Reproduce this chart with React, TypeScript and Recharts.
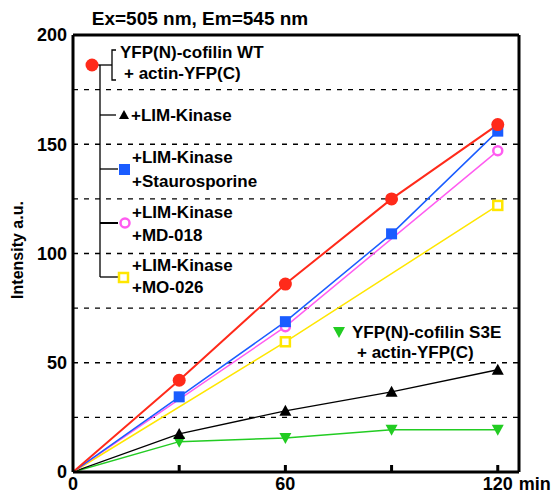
import React from 'react';
import { LineChart, Line, XAxis, YAxis, ReferenceLine } from 'recharts';

// time points (min) and intensities (a.u.)
const minutes = [0, 30, 60, 90, 120];
const wildType = [0, 42, 86, 125, 159];
const limKinase = [0, 17.4, 28, 36.7, 46.8];
const staurosporine = [0, 34.4, 68.8, 109, 156];
const md018 = [0, null, 66.5, null, 147];
const mo026 = [0, null, 59.6, null, 122];
const s3e = [0, 13.9, 15.6, 19.3, 19.3];

const xTicks = [0, 30, 60, 90, 120];
const xLabels = ['0', '', '60', '', '120'];
const yTicks = [0, 50, 100, 150, 200];
const gridLevels = [25, 50, 75, 100, 125, 150, 175];

const data = minutes.map((t, i) => ({
  t,
  wt: wildType[i],
  lk: limKinase[i],
  st: staurosporine[i],
  md: md018[i],
  mo: mo026[i],
  s3e: s3e[i],
}));

const FONT = '"Liberation Sans", Arial, Helvetica, sans-serif';
const RED = '#ff2a1a';
const BLUE = '#1a5cff';
const PINK = '#ff5cf0';
const YELLOW = '#ffe600';
const GREEN = '#22cc22';

// dot renderers: no marker at the origin
const skip = (p: any) => !p || p.cx == null || p.cy == null || p.value == null || p.payload?.t === 0;

const circleDot = (fill: string, r: number) => (p: any) =>
  skip(p) ? <g key={p.index} /> : <circle key={p.index} cx={p.cx} cy={p.cy} r={r} fill={fill} />;

const ringDot = (stroke: string) => (p: any) =>
  skip(p) ? <g key={p.index} /> : <circle key={p.index} cx={p.cx} cy={p.cy} r={4.5} fill="#fff" stroke={stroke} strokeWidth={2.5} />;

const squareDot = (fill: string) => (p: any) =>
  skip(p) ? <g key={p.index} /> : <rect key={p.index} x={p.cx - 5.5} y={p.cy - 5.5} width={11} height={11} fill={fill} />;

const hollowSquareDot = (stroke: string) => (p: any) =>
  skip(p) ? <g key={p.index} /> : <rect key={p.index} x={p.cx - 4.5} y={p.cy - 4.5} width={9} height={9} fill="#fff" stroke={stroke} strokeWidth={2.5} />;

const triUp = (fill: string) => (p: any) =>
  skip(p) ? <g key={p.index} /> : <path key={p.index} d={`M${p.cx},${p.cy - 6}L${p.cx + 6},${p.cy + 5}L${p.cx - 6},${p.cy + 5}Z`} fill={fill} />;

const triDown = (fill: string) => (p: any) =>
  skip(p) ? <g key={p.index} /> : <path key={p.index} d={`M${p.cx - 6},${p.cy - 5}L${p.cx + 6},${p.cy - 5}L${p.cx},${p.cy + 6}Z`} fill={fill} />;

const XTick = (props: any) => {
  const { x, y, payload, index } = props;
  const label = xLabels[index] ?? '';
  return (
    <g>
      {payload.value !== 0 && <line x1={x} y1={y} x2={x} y2={y - 7} stroke="#000" strokeWidth={3} />}
      {label && (
        <text x={x} y={y + 18} textAnchor="middle" fontFamily={FONT} fontWeight="bold" fontSize={18} fill="#000">
          {label}
        </text>
      )}
      {label === '120' && (
        <text x={x + 21} y={y + 18} textAnchor="start" fontFamily={FONT} fontWeight="bold" fontSize={18} fill="#000">
          min
        </text>
      )}
    </g>
  );
};

const txt = { fontFamily: FONT, fontWeight: 'bold' as const, fontSize: 17, fill: '#000' };

export default function App() {
  return (
    <div style={{ position: 'absolute', left: 0, top: 0, width: 553, height: 493, background: '#fff' }}>
      <LineChart
        width={553}
        height={493}
        data={data}
        margin={{ top: 35, right: 34, bottom: 0, left: 0 }}
      >
        <XAxis
          dataKey="t"
          type="number"
          domain={[0, 126]}
          ticks={xTicks}
          interval={0}
          height={21}
          tickSize={0}
          tickMargin={0}
          tickLine={false}
          axisLine={{ stroke: '#000', strokeWidth: 3 }}
          tick={<XTick />}
          allowDataOverflow
        />
        <YAxis
          type="number"
          domain={[0, 200]}
          ticks={yTicks}
          interval={0}
          width={73}
          tickSize={0}
          tickMargin={6}
          tickLine={false}
          axisLine={{ stroke: '#000', strokeWidth: 3 }}
          tick={{ fontFamily: FONT, fontWeight: 'bold', fontSize: 18, fill: '#000' }}
        />
        {gridLevels.map((v) => (
          <ReferenceLine key={v} y={v} stroke="#000" strokeWidth={1.3} strokeDasharray="5 6" />
        ))}
        <ReferenceLine y={200} stroke="#000" strokeWidth={3} />
        <ReferenceLine x={126} stroke="#000" strokeWidth={3} />

        <Line dataKey="s3e" stroke={GREEN} strokeWidth={1.5} dot={triDown(GREEN)} isAnimationActive={false} />
        <Line dataKey="lk" stroke="#000" strokeWidth={1.3} dot={triUp('#000')} isAnimationActive={false} />
        <Line dataKey="mo" stroke={YELLOW} strokeWidth={1.5} dot={hollowSquareDot(YELLOW)} connectNulls isAnimationActive={false} />
        <Line dataKey="md" stroke={PINK} strokeWidth={1.5} dot={ringDot(PINK)} connectNulls isAnimationActive={false} />
        <Line dataKey="st" stroke={BLUE} strokeWidth={1.5} dot={squareDot(BLUE)} isAnimationActive={false} />
        <Line dataKey="wt" stroke={RED} strokeWidth={2} dot={circleDot(RED, 6.5)} isAnimationActive={false} />
      </LineChart>

      <svg width={553} height={493} style={{ position: 'absolute', left: 0, top: 0, pointerEvents: 'none' }}>
        <text x={200} y={25} textAnchor="middle" fontFamily={FONT} fontWeight="bold" fontSize={19} fill="#000">
          Ex=505 nm, Em=545 nm
        </text>
        <text
          x={23}
          y={250}
          transform="rotate(-90 23 250)"
          textAnchor="middle"
          fontFamily={FONT}
          fontWeight="bold"
          fontSize={16}
          fill="#000"
        >
          Intensity a.u.
        </text>

        {/* legend tree */}
        <g stroke="#000" strokeWidth={1.3} fill="none">
          <line x1={98} y1={65} x2={112} y2={65} />
          <polyline points="116,50 112,50 112,80 116,80" />
          <line x1={100} y1={65} x2={100} y2={277} />
          <line x1={100} y1={115} x2={116} y2={115} />
          <line x1={100} y1={169} x2={118} y2={169} />
          <line x1={100} y1={223} x2={118} y2={223} strokeWidth={2} />
          <line x1={100} y1={277} x2={118} y2={277} />
        </g>
        <circle cx={92} cy={65} r={6.5} fill={RED} />
        <text x={120} y={58} {...txt}>YFP(N)-cofilin WT</text>
        <text x={124} y={79} {...txt}>+ actin-YFP(C)</text>

        <path d="M124,110L129,119L119,119Z" fill="#000" />
        <text x={131} y={121} {...txt}>+LIM-Kinase</text>

        <rect x={119} y={164} width={11} height={11} fill={BLUE} />
        <text x={132} y={163} {...txt}>+LIM-Kinase</text>
        <text x={132} y={187} {...txt}>+Staurosporine</text>

        <circle cx={125} cy={223} r={4.5} fill="#fff" stroke={PINK} strokeWidth={2.5} />
        <text x={132} y={218} {...txt}>+LIM-Kinase</text>
        <text x={132} y={241} {...txt}>+MD-018</text>

        <rect x={119} y={273} width={9} height={9} fill="#fff" stroke={YELLOW} strokeWidth={2.5} />
        <text x={132} y={271} {...txt}>+LIM-Kinase</text>
        <text x={132} y={293} {...txt}>+MO-026</text>

        <path d="M333,327L345,327L339,338Z" fill={GREEN} />
        <text x={352} y={338} {...txt}>YFP(N)-cofilin S3E</text>
        <text x={357} y={358} {...txt}>+ actin-YFP(C)</text>
      </svg>
    </div>
  );
}
